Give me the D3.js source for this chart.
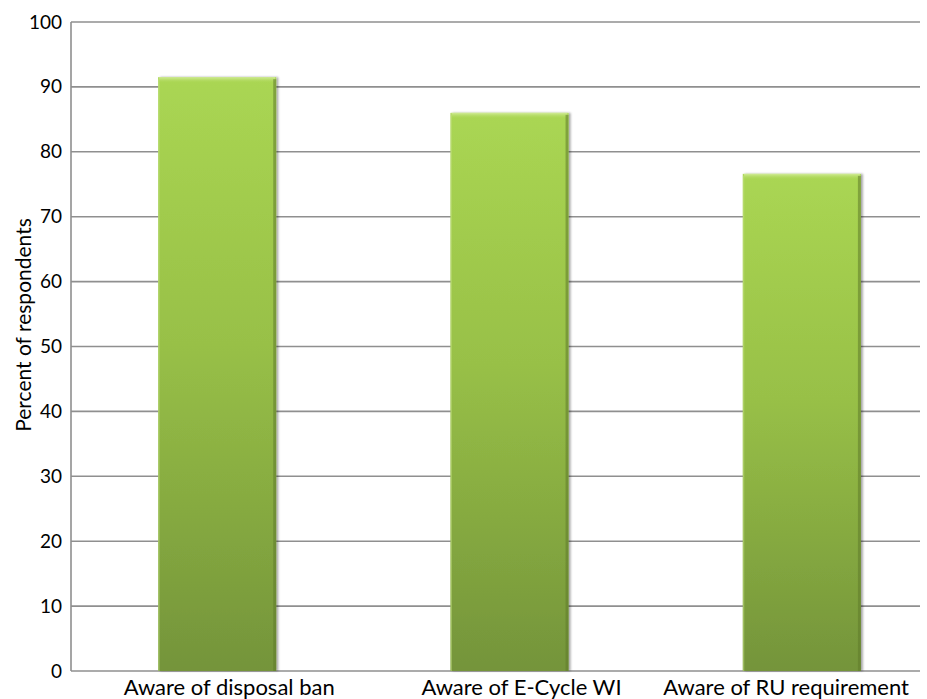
<!DOCTYPE html>
<html>
<head>
<meta charset="utf-8">
<script src="https://cdn.jsdelivr.net/npm/d3@7"></script>
<style>
  html, body { margin: 0; padding: 0; background: #fff; }
  svg { display: block; font-family: Lato, "Open Sans", sans-serif; }
</style>
</head>
<body>
<svg id="chart" width="927" height="699"></svg>
<script>
// Awareness survey results
const categories = ["Aware of disposal ban", "Aware of E-Cycle WI", "Aware of RU requirement"];
const percentAware = [91.5, 86.0, 76.6];
const yTicks = [0, 10, 20, 30, 40, 50, 60, 70, 80, 90, 100];
const yAxisTitle = "Percent of respondents";

const svg = d3.select("#chart");
const plot = { left: 71, top: 22, bottom: 671, gridRight: 920, bandRight: 948 };

const x = d3.scaleBand()
  .domain(categories)
  .range([plot.left, plot.bandRight])
  .paddingInner(0.596)
  .paddingOuter(0.298);

const y = d3.scaleLinear().domain([0, 100]).range([plot.bottom, plot.top]);

// Bar fill: light lime at the top fading to olive at the base
const defs = svg.append("defs");
const grad = defs.append("linearGradient")
  .attr("id", "barFill").attr("x1", 0).attr("y1", 0).attr("x2", 0).attr("y2", 1);
grad.append("stop").attr("offset", "0%").attr("stop-color", "#aad653");
grad.append("stop").attr("offset", "45%").attr("stop-color", "#98c047");
grad.append("stop").attr("offset", "100%").attr("stop-color", "#74943a");

const hiGrad = defs.append("linearGradient")
  .attr("id", "topBevel").attr("x1", 0).attr("y1", 0).attr("x2", 0).attr("y2", 1);
hiGrad.append("stop").attr("offset", "0%").attr("stop-color", "#d2ec98");
hiGrad.append("stop").attr("offset", "100%").attr("stop-color", "#a9d552").attr("stop-opacity", 0);

const filt = defs.append("filter").attr("id", "shadow")
  .attr("x", "-10%").attr("y", "-10%").attr("width", "130%").attr("height", "120%");
filt.append("feDropShadow").attr("dx", 2).attr("dy", 0).attr("stdDeviation", 1.2)
  .attr("flood-color", "#000").attr("flood-opacity", 0.35);

// Horizontal gridlines
svg.append("g").selectAll("line")
  .data(yTicks)
  .join("line")
  .attr("x1", plot.left).attr("x2", plot.gridRight)
  .attr("y1", d => y(d)).attr("y2", d => y(d))
  .attr("stroke", "#8f8f8f").attr("stroke-width", 1.6);

// Vertical axis line
svg.append("line")
  .attr("x1", plot.left).attr("x2", plot.left)
  .attr("y1", y(100)).attr("y2", y(0))
  .attr("stroke", "#8f8f8f").attr("stroke-width", 1.6);

// Y tick labels
const yAxis = d3.axisLeft(y).tickValues(yTicks).tickSize(0).tickPadding(9);
const yAxisG = svg.append("g").attr("transform", `translate(${plot.left},0)`).call(yAxis);
yAxisG.select(".domain").remove();
yAxisG.selectAll("text")
  .attr("font-family", "Lato, 'Open Sans', sans-serif")
  .attr("font-size", 19).attr("fill", "#000");

// Bars
const bars = svg.append("g").selectAll("g")
  .data(categories.map((c, i) => ({ c, v: percentAware[i] })))
  .join("g");

bars.append("rect")
  .attr("x", d => x(d.c)).attr("y", d => y(d.v))
  .attr("width", x.bandwidth()).attr("height", d => y(0) - y(d.v))
  .attr("fill", "url(#barFill)")
  .attr("filter", "url(#shadow)");

// top bevel highlight
bars.append("rect")
  .attr("x", d => x(d.c) + 1).attr("y", d => y(d.v))
  .attr("width", x.bandwidth() - 2).attr("height", 6)
  .attr("fill", "url(#topBevel)");

// right-edge shading
bars.append("rect")
  .attr("x", d => x(d.c) + x.bandwidth() - 3).attr("y", d => y(d.v) + 2)
  .attr("width", 3).attr("height", d => y(0) - y(d.v) - 2)
  .attr("fill", "#5e7a2a").attr("opacity", 0.55);

// left-edge light line
bars.append("rect")
  .attr("x", d => x(d.c)).attr("y", d => y(d.v) + 2)
  .attr("width", 1.5).attr("height", d => y(0) - y(d.v) - 2)
  .attr("fill", "#c4e184").attr("opacity", 0.5);

// Category labels
svg.append("g").selectAll("text")
  .data(categories)
  .join("text")
  .attr("x", (d, i) => i === categories.length - 1 ? 909 : x(d) + x.bandwidth() / 2 + 12)
  .attr("y", 695)
  .attr("text-anchor", (d, i) => i === categories.length - 1 ? "end" : "middle")
  .attr("font-size", 22).attr("fill", "#000")
  .text(d => d);

// Y axis title
svg.append("text")
  .attr("transform", `translate(31,${325}) rotate(-90)`)
  .attr("text-anchor", "middle")
  .attr("font-size", 21).attr("fill", "#000")
  .text(yAxisTitle);
</script>
</body>
</html>
